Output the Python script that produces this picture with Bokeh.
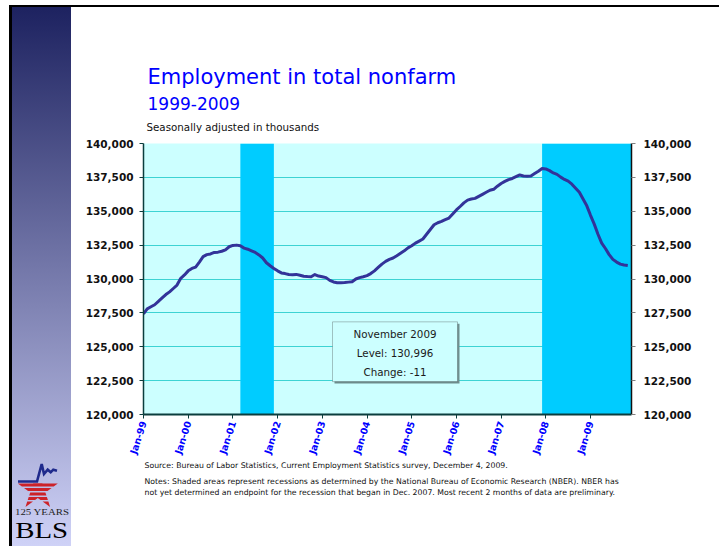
import numpy as np
from bokeh.plotting import figure
from bokeh.models import (Range1d, LinearAxis, FixedTicker, NumeralTickFormatter,
                          Label, BoxAnnotation, Div)
from bokeh.layouts import row, column
from bokeh.embed import file_html
from bokeh.resources import INLINE

# ---------------- data ----------------
start_month = "1999-01"
employment = [
    # 1999
    127430, 127800, 127950, 128100, 128350, 128600, 128850, 129050, 129300, 129550, 130050, 130300,
    # 2000
    130600, 130780, 130880, 131250, 131650, 131800, 131850, 131960, 131980, 132050, 132150, 132380,
    # 2001
    132480, 132500, 132450, 132280, 132200, 132080, 131960, 131780, 131550, 131200, 130980, 130780,
    # 2002
    130600, 130450, 130400, 130330, 130320, 130340, 130280, 130200, 130180, 130170, 130330, 130220,
    # 2003
    130170, 130100, 129900, 129780, 129730, 129730, 129740, 129770, 129800, 130000, 130100, 130170,
    # 2004
    130250, 130400, 130600, 130850, 131100, 131300, 131450, 131550, 131720, 131900, 132080, 132300,
    # 2005
    132450, 132650, 132800, 132950, 133300, 133650, 134000, 134150, 134250, 134380, 134500, 134800,
    # 2006
    135100, 135350, 135620, 135820, 135900, 135950, 136100, 136250, 136400, 136550, 136620, 136850,
    # 2007
    137050, 137200, 137330, 137420, 137550, 137680, 137600, 137580, 137600, 137780, 137950, 138150,
    # 2008
    138120, 138000, 137830, 137720, 137520, 137350, 137220, 137000, 136700, 136400, 135900, 135400,
    # 2009
    134700, 134050, 133300, 132650, 132250, 131800, 131450, 131250, 131100, 131030, 130996,
]
tick_labels = ["Jan-99", "Jan-00", "Jan-01", "Jan-02", "Jan-03", "Jan-04",
               "Jan-05", "Jan-06", "Jan-07", "Jan-08", "Jan-09"]
y_ticks = [120000, 122500, 125000, 127500, 130000, 132500, 135000, 137500, 140000]
recession_starts = ["2001-03", "2007-12"]
recession_ends = ["2001-12", "2009-12"]

title_text = "Employment in total nonfarm"
subtitle_text = "1999-2009"
units_text = "Seasonally adjusted in thousands"
box_lines = ["November 2009", "Level: 130,996", "Change: -11"]
source_text = "Source:  Bureau of Labor Statistics, Current Employment Statistics survey, December 4, 2009."
notes_lines = [
    "Notes: Shaded areas represent recessions as determined by the National Bureau of Economic Research (NBER). NBER has",
    "not yet determined an endpoint  for the recession that began in Dec. 2007. Most recent 2 months of data are preliminary.",
]


def month_index(s):
    y0, m0 = map(int, start_month.split("-"))
    y, m = map(int, s.split("-"))
    return (y - y0) * 12 + (m - m0)


x = np.arange(len(employment))
n_months = month_index("2009-12")  # axis spans to end of 2009

# ---------------- page geometry (pixels) ----------------
PAGE_W, PAGE_H = 719, 546
TOP_H = 7                      # white strip + black rule
SIDE_W = 71                    # sidebar width
RIGHT_W = PAGE_W - SIDE_W      # 648
Y_CHART0, Y_CHART1 = 135, 460  # chart figure vertical span on page
FR_L, FR_T, FR_R, FR_B = 143, 143, 631, 415   # plot frame on the page
BASE_K = 0.38                  # baseline correction (fraction of font size)

TOPFIG_H = Y_CHART0 - TOP_H
CHART_H = Y_CHART1 - Y_CHART0
NOTES_H = PAGE_H - Y_CHART1


def xd(X):
    return (X - FR_L) * n_months / (FR_R - FR_L)


def yd(Y):
    return y_ticks[-1] - (Y - FR_T) * (y_ticks[-1] - y_ticks[0]) / (FR_B - FR_T)


def bl(Y, fs):
    return Y - BASE_K * fs


def text_fig(h, y0):
    # frame spans the same page columns as the chart frame; y in page pixels
    f = figure(width=RIGHT_W, height=h, title=None,
               x_range=Range1d(FR_L, FR_R), y_range=Range1d(y0 + h, y0),
               x_axis_type=None, y_axis_type=None,
               output_backend="svg", toolbar_location=None,
               min_border_left=FR_L - SIDE_W, min_border_right=PAGE_W - FR_R,
               min_border_top=0, min_border_bottom=0,
               background_fill_color="white", border_fill_color="white",
               outline_line_color=None)
    f.xgrid.visible = False
    f.ygrid.visible = False
    f.margin = 0
    return f


def add_text(fig, X, Y, text, fs, color, align="left"):
    fig.add_layout(Label(x=X, y=Y, text=text, text_font="DejaVu Sans",
                         text_font_size=f"{fs}px", text_color=color,
                         text_baseline="alphabetic", text_align=align))


# ---------------- title figure ----------------
pt = text_fig(TOPFIG_H, TOP_H)
add_text(pt, 147, bl(84, 21), title_text, 21, "#0000ff")
add_text(pt, 147, bl(109, 17), subtitle_text, 17, "#0000ff")
add_text(pt, 146, bl(130.5, 10.3), units_text, 10.3, "#111111")

# ---------------- chart figure ----------------
p = figure(width=RIGHT_W, height=CHART_H, title=None,
           x_range=Range1d(0, n_months), y_range=Range1d(y_ticks[0], y_ticks[-1]),
           output_backend="svg", toolbar_location=None,
           min_border_left=FR_L - SIDE_W, min_border_right=PAGE_W - FR_R,
           min_border_top=FR_T - Y_CHART0, min_border_bottom=Y_CHART1 - FR_B,
           background_fill_color="#ccffff", border_fill_color="white",
           outline_line_color=None)
p.margin = 0

p.xgrid.visible = False
p.ygrid.grid_line_color = "#3dd3d3"
p.ygrid.grid_line_width = 1.2

p.quad(left=[month_index(s) for s in recession_starts],
       right=[month_index(s) for s in recession_ends],
       bottom=y_ticks[0], top=y_ticks[-1],
       fill_color="#00ccff", line_color=None)

p.line(x, employment, line_color="#333399", line_width=3, line_join="round")

yt = FixedTicker(ticks=y_ticks)
fmt = NumeralTickFormatter(format="0,0")
ax = p.yaxis[0]
ax.ticker = yt
ax.formatter = fmt
ax.axis_line_color = "#0b3d3d"
ax.axis_line_width = 1.5
ax.major_tick_line_color = "#0b3d3d"
ax.major_tick_out = 4
ax.major_tick_in = 0
ax.minor_tick_line_color = None
ax.major_label_standoff = 6
ax.major_label_text_font = "DejaVu Sans"
ax.major_label_text_font_style = "bold"
ax.major_label_text_font_size = "10.5px"
ax.major_label_text_color = "#111111"

rax = LinearAxis(ticker=yt, formatter=fmt)
rax.axis_line_color = "#111111"
rax.axis_line_width = 1.5
rax.major_tick_line_color = "#808080"
rax.major_tick_out = 4
rax.major_tick_in = 0
rax.minor_tick_line_color = None
rax.major_label_standoff = 8
rax.major_label_text_font = "DejaVu Sans"
rax.major_label_text_font_style = "bold"
rax.major_label_text_font_size = "10.5px"
rax.major_label_text_color = "#111111"
p.add_layout(rax, "right")

xax = p.xaxis[0]
xt = [month_index(f"{1999 + i}-01") for i in range(len(tick_labels))]
xax.ticker = FixedTicker(ticks=xt)
xax.major_label_overrides = {t: lab for t, lab in zip(xt, tick_labels)}
xax.axis_line_color = "#0b3d3d"
xax.axis_line_width = 2
xax.major_tick_line_color = "#0b3d3d"
xax.major_tick_out = 4
xax.major_tick_in = 0
xax.minor_tick_line_color = None
xax.major_label_orientation = np.deg2rad(72)
xax.major_label_standoff = 3
xax.major_label_text_font = "DejaVu Sans"
xax.major_label_text_font_style = "bold"
xax.major_label_text_font_size = "9.5px"
xax.major_label_text_color = "#0000ff"

# callout box
BX0, BY0, BX1, BY1 = 332, 322, 457, 382
p.add_layout(BoxAnnotation(left=xd(BX0 + 2), right=xd(BX1 + 2), top=yd(BY0 + 2), bottom=yd(BY1 + 2),
                           fill_color="#6f8f8f", fill_alpha=1, line_color=None))
p.add_layout(BoxAnnotation(left=xd(BX0), right=xd(BX1), top=yd(BY0), bottom=yd(BY1),
                           fill_color="#ccffff", fill_alpha=1, line_color="#333333",
                           line_width=1))
for line, by in zip(box_lines, [338, 357, 376]):
    add_text(p, xd((BX0 + BX1) / 2), yd(bl(by, 10.3)), line, 10.3, "#1a1a1a", align="center")

# ---------------- notes figure ----------------
pn = text_fig(NOTES_H, Y_CHART1)
add_text(pn, 144, bl(468, 7.75), source_text, 7.75, "#111111")
for line, by in zip(notes_lines, [484, 495]):
    add_text(pn, 144, bl(by, 7.75), line, 7.75, "#111111")


# ---------------- sidebar with BLS logo ----------------
def clip_band(poly, y_lo, y_hi):
    def clip(pts, keep, inter):
        out = []
        for i in range(len(pts)):
            a, b = pts[i - 1], pts[i]
            ka, kb = keep(a), keep(b)
            if kb:
                if not ka:
                    out.append(inter(a, b))
                out.append(b)
            elif ka:
                out.append(inter(a, b))
        return out

    def at_y(yc):
        def f(a, b):
            t = (yc - a[1]) / (b[1] - a[1])
            return (a[0] + t * (b[0] - a[0]), yc)
        return f
    pts = clip(poly, lambda q: q[1] >= y_lo, at_y(y_lo))
    if pts:
        pts = clip(pts, lambda q: q[1] <= y_hi, at_y(y_hi))
    return pts


cx, cy, R = 37.8, 490, 21
r_in = R * 0.382
star = []
for k in range(10):
    ang = np.deg2rad(-90 + 36 * k)
    rr = R if k % 2 == 0 else r_in
    star.append((cx + rr * np.cos(ang), cy + rr * np.sin(ang)))

bands = [(483.3, 486.5), (488, 491), (492.5, 495.5), (497, 500), (501.5, 508)]
red_polys = ""
for lo, hi in bands:
    pts = clip_band(star, lo, hi)
    if len(pts) >= 3:
        red_polys += '<polygon points="%s" fill="#cc2229"/>' % " ".join(
            "%.1f,%.1f" % q for q in pts)

SIDE_H = PAGE_H - TOP_H
serif = "font-family:'Liberation Serif','DejaVu Serif',serif"
svg = (
    f'<svg xmlns="http://www.w3.org/2000/svg" width="{SIDE_W}" height="{SIDE_H}" style="display:block">'
    f'<g transform="translate(0,{-TOP_H})">'
    + red_polys +
    '<polyline points="18,481.5 37,481.5 41.7,464 44,474 47.7,469.7 50.7,472.3 53.3,469.7 57,470.7" '
    'fill="none" stroke="#1f2a8c" stroke-width="2.6" stroke-linejoin="miter"/>'
    f'<text x="42" y="514.5" text-anchor="middle" style="{serif};font-size:9px" '
    'textLength="54" lengthAdjust="spacingAndGlyphs" fill="#222222">125 YEARS</text>'
    f'<text x="41.7" y="537.5" text-anchor="middle" style="{serif};font-size:23px" '
    'textLength="53" lengthAdjust="spacingAndGlyphs" fill="#000000">BLS</text>'
    '</g></svg>'
)

sidebar = Div(text=svg, width=SIDE_W, height=SIDE_H, margin=0,
              styles={"background": "linear-gradient(to right, #ffffff 0px, #ffffff 9px, #000000 9px, "
                                    "#000000 12px, transparent 12px), "
                                    "linear-gradient(to bottom, #1d2260, #cfd2f7)",
                      "overflow": "hidden"})
topline = Div(text="", width=PAGE_W, height=TOP_H, margin=0,
              styles={"background": "linear-gradient(to right, #ffffff 0px, #ffffff 9px, transparent 9px), "
                                    "linear-gradient(to bottom, #ffffff 0px, #ffffff 5px, #000000 5px, #000000 7px)",
                      "overflow": "hidden"})

layout = column(topline,
                row(sidebar, column(pt, p, pn, spacing=0), spacing=0),
                spacing=0)

with open("out.html", "w") as f:
    f.write(file_html(layout, INLINE))
